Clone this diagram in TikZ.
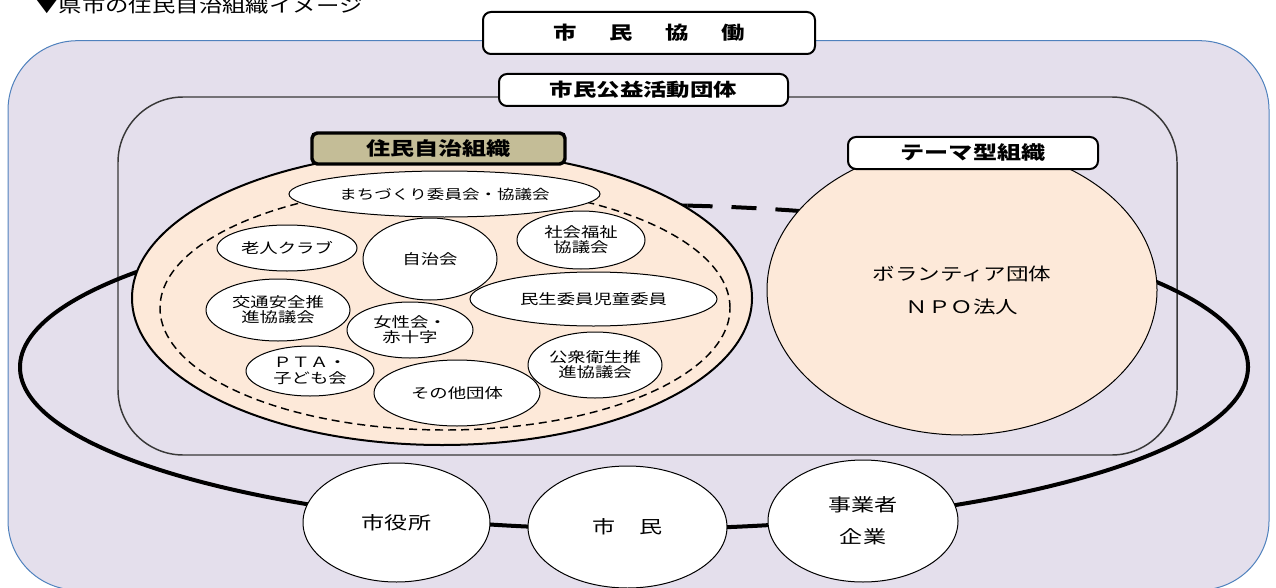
\documentclass[tikz,border=0pt]{standalone}
\usepackage{fontspec}
\setmainfont{Noto Sans CJK JP}[FakeStretch=1.3]
\usetikzlibrary{shapes.geometric}
\definecolor{lav}{HTML}{E4DFEC}
\definecolor{peach}{HTML}{FDE9D9}
\definecolor{khaki}{HTML}{C4BD97}
\definecolor{outerblue}{HTML}{4F81BD}
\definecolor{rimgray}{HTML}{383838}
\begin{document}
\begin{tikzpicture}[x=0.75pt,y=-0.75pt,
  ell/.style 2 args={ellipse, draw=black, line width=0.75pt, fill=white, inner sep=0pt,
    minimum width={#1*1.5pt}, minimum height={#2*1.5pt}, align=center},
  lbl/.style={font=\fontsize{10.6}{11.5}\selectfont},
  biglbl/.style={font=\fontsize{13.3}{24}\selectfont},
  tagbox/.style 2 args={draw=black, line width=1.5pt, rounded corners=6pt, fill=white,
    inner sep=0pt, minimum width={#1*0.75pt}, minimum height={#2*0.75pt}},
  loopline/.style={line width=3pt, black},
]
\useasboundingbox (0,0) rectangle (1276,588);

% outer container
\path[fill=lav, draw=outerblue, line width=0.75pt, rounded corners=52pt] (8,40.7) rectangle (1269,590);
% inner container
\path[draw=rimgray, line width=1.1pt, rounded corners=49pt] (118,97) rectangle (1177,455);

% big loop
\coordinate (lc) at (634,367);
\draw[loopline] (lc) ++(-85:614 and 162) arc[start angle=-85, end angle=-433, x radius=614, y radius=162];
\draw[loopline, dash pattern=on 18.75pt off 14.25pt] (lc) ++(-85:614 and 162) arc[start angle=-85, end angle=-73, x radius=614, y radius=162];

% resident self-governance ellipse
\node[ellipse, draw=black, line width=1.5pt, fill=peach, inner sep=0pt,
  minimum width={620*0.75pt}, minimum height={294*0.75pt}] (jumin) at (442,298) {};
\node[ellipse, draw=black, line width=1.1pt, dash pattern=on 6pt off 3.75pt, inner sep=0pt,
  minimum width={570*0.75pt}, minimum height={244*0.75pt}] (ring) at (445,308) {};

\node[ell={155.5}{23}, font=\fontsize{10.1}{11}\selectfont] (machi) at (444.5,194) {まちづくり委員会・協議会};
\node[ell={70}{23}, lbl] (rojin) at (287,248) {老人クラブ};
\node[ell={67}{41}, lbl] (jichi) at (430,259) {自治会};
\node[ell={64}{29}, lbl] (shakai) at (581,240) {社会福祉\\協議会};
\node[ell={123.5}{27}, lbl] (minsei) at (593.5,299) {民生委員児童委員};
\node[ell={72}{31}, lbl] (kotsu) at (278,310) {交通安全推\\進協議会};
\node[ell={63}{28}, lbl] (josei) at (410,330) {女性会・\\赤十字};
\node[ell={64}{25}, font=\fontsize{10.6}{12.5}\selectfont] (pta) at (310,371) {ＰＴＡ・\\子ども会};
\node[ell={83}{33}, lbl] (sonota) at (457,393) {その他団体};
\node[ell={67}{33}, lbl] (koshu) at (595,365) {公衆衛生推\\進協議会};

% theme organisations
\node[ellipse, draw=black, line width=0.75pt, fill=peach, inner sep=0pt,
  minimum width={390*0.75pt}, minimum height={290*0.75pt}, align=center,
  font={\fontsize{13}{24.75}\selectfont}] (npo) at (962,290)
  {ボランティア団体\\ＮＰＯ法人};

% bottom actors
\node[ell={93.5}{59.5}, biglbl] (shiyakusho) at (396.5,522.5) {市役所};
\node[ell={99.5}{61}, biglbl] (shimin) at (627.5,527) {市　民};
\node[ell={95}{61}, biglbl] (jigyo) at (863,521) {事業者\\企業};

% title boxes
\node[tagbox={332}{42}, font=\fontsize{13.5}{14}\selectfont\bfseries] (kyodo) at (649,33)
  {市\hspace{24.5pt}民\hspace{24.5pt}協\hspace{24.5pt}働};
\node[tagbox={289}{32}, font=\fontsize{13.5}{14}\selectfont\bfseries] (koeki) at (643.5,90) {市民公益活動団体};
\node[tagbox={253}{31}, fill=khaki, line width=2.6pt, rounded corners=4pt,
  font=\fontsize{13.9}{14}\selectfont\bfseries] (jichiso) at (438.5,148.5) {住民自治組織};
\node[tagbox={250}{32}, font=\fontsize{13.9}{14}\selectfont\bfseries] (theme) at (973,153) {テーマ型組織};

% page title
\node[anchor=base west, inner sep=0pt, font=\fontsize{13.5}{14}\selectfont] (title) at (35,13) {▼県市の住民自治組織イメージ};
\end{tikzpicture}
\end{document}
